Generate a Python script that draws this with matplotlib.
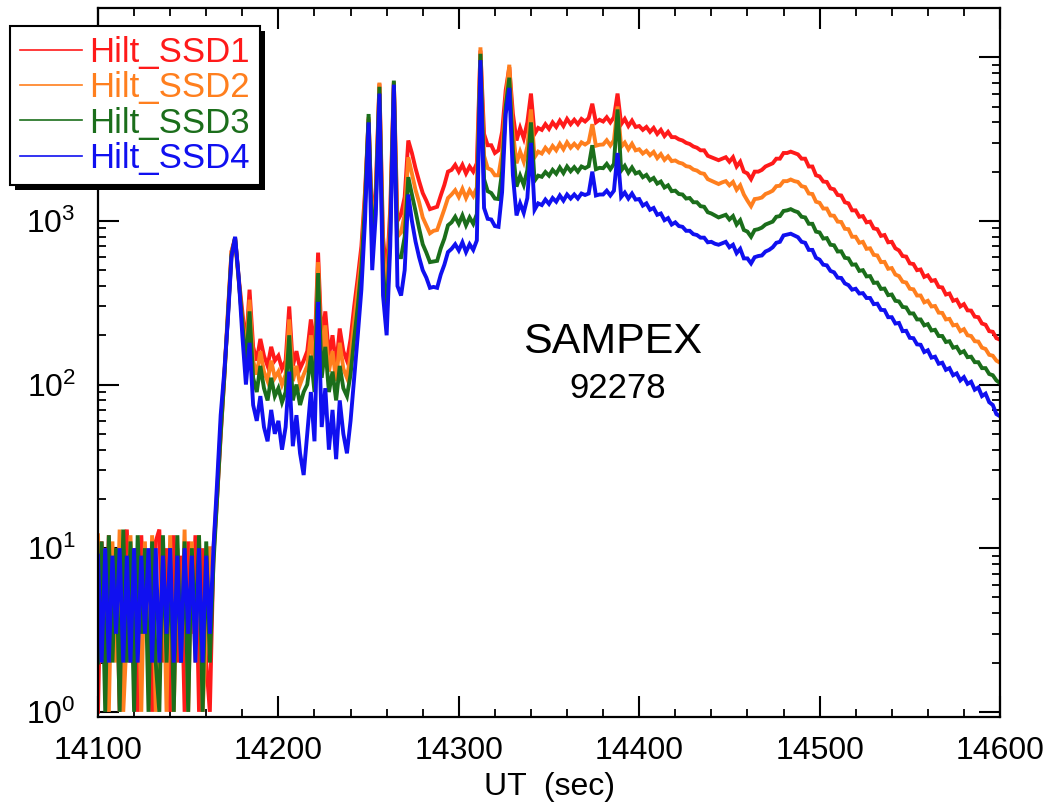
import numpy as np
import matplotlib
matplotlib.use('Agg')
import matplotlib.pyplot as plt
from matplotlib.patches import Rectangle
from matplotlib.transforms import IdentityTransform
from matplotlib.ticker import FixedLocator, LogLocator, MultipleLocator, NullFormatter, FixedFormatter

plt.rcParams['font.family'] = ['Liberation Sans', 'DejaVu Sans']
plt.rcParams['mathtext.fontset'] = 'custom'
plt.rcParams['mathtext.rm'] = 'Liberation Sans'
plt.rcParams['mathtext.it'] = 'Liberation Sans:italic'
plt.rcParams['mathtext.default'] = 'regular'

# ---------------- data (counts, 2-s samples from 14100 to 14600 s) ----------------
t_start = 14100
t_step = 2
series_names = ['Hilt_SSD1', 'Hilt_SSD2', 'Hilt_SSD3', 'Hilt_SSD4']
series_colors = ['#ff1a1a', '#ff7f1e', '#1b6e1b', '#1010f0']

ssd1 = [
    1, 11, 2, 12, 3, 10, 1, 9, 13, 2,
    10, 1, 12, 3, 9, 1, 11, 13, 2, 10,
    1, 12, 2, 9, 1, 11, 3, 12, 1, 10,
    2, 1, 9, 20, 48, 110, 270, 650, 790, 450,
    280, 170, 380, 170, 140, 190, 150, 130, 170, 140,
    150, 125, 140, 300, 130, 160, 125, 140, 160, 250,
    150, 640, 180, 280, 150, 200, 130, 220, 160, 140,
    190, 300, 450, 700, 1500, 4200, 900, 1600, 6900, 800,
    450, 1200, 7000, 1000, 1100, 1400, 3100, 2600, 2100, 1750,
    1480, 1330, 1180, 1200, 1220, 1430, 1660, 2000, 2050, 2200,
    2000, 2200, 1950, 2150, 2000, 2250, 11000, 3400, 2900, 2900,
    2600, 2700, 3500, 6300, 8700, 4500, 3100, 3700, 3200, 4000,
    6000, 3400, 3700, 3600, 3900, 3650, 4000, 3750, 4100, 3800,
    4200, 3900, 4150, 3900, 4200, 4050, 4250, 5200, 4000, 4150,
    4050, 4300, 4000, 4300, 6000, 3900, 4200, 3800, 4100, 3750,
    3800, 3600, 3750, 3500, 3700, 3400, 3600, 3300, 3500, 3250,
    3250, 3150, 3100, 3000, 2950, 2850, 2800, 2700, 2700, 2500,
    2450, 2400, 2350, 2400, 2450, 2300, 2450, 2150, 2300, 2000,
    1950, 1800, 2000, 2000, 2050, 2150, 2200, 2250, 2400, 2400,
    2600, 2600, 2650, 2600, 2550, 2400, 2400, 2150, 2150, 1900,
    1870, 1740, 1730, 1580, 1560, 1440, 1430, 1300, 1280, 1160,
    1160, 1060, 1070, 980, 990, 900, 890, 810, 820, 740,
    745, 680, 660, 610, 605, 550, 545, 500, 505, 455,
    465, 430, 435, 395, 392, 355, 360, 325, 330, 300,
    310, 284, 283, 260, 258, 236, 232, 212, 210, 192,
    188,
]

ssd2 = [
    12, 2, 10, 1, 11, 2, 13, 1, 3, 12,
    2, 10, 1, 11, 2, 12, 1, 3, 11, 1,
    12, 1, 10, 2, 13, 1, 11, 2, 12, 1,
    3, 10, 10, 22, 55, 115, 280, 650, 760, 430,
    250, 150, 330, 140, 115, 160, 120, 105, 140, 110,
    120, 100, 115, 250, 105, 130, 100, 115, 130, 200,
    120, 560, 145, 230, 120, 160, 105, 180, 125, 110,
    150, 240, 380, 600, 1350, 4300, 800, 1450, 7000, 650,
    350, 1000, 7100, 800, 850, 1100, 2450, 1950, 1550, 1300,
    1050, 940, 840, 870, 880, 1020, 1180, 1380, 1450, 1540,
    1400, 1570, 1380, 1540, 1420, 1600, 11500, 2500, 2100, 2050,
    1900, 1900, 2600, 5500, 9000, 3500, 2250, 2650, 2300, 2850,
    4800, 2450, 2650, 2580, 2800, 2640, 2870, 2700, 2960, 2740,
    3020, 2800, 2960, 2800, 3020, 2930, 3030, 3900, 2880, 2920,
    2930, 3110, 2890, 3110, 5000, 2840, 3010, 2740, 2960, 2700,
    2740, 2580, 2680, 2520, 2640, 2420, 2560, 2360, 2480, 2320,
    2340, 2270, 2240, 2160, 2140, 2060, 2030, 1960, 1940, 1800,
    1760, 1720, 1680, 1720, 1750, 1650, 1730, 1550, 1650, 1450,
    1330, 1230, 1360, 1370, 1390, 1460, 1490, 1530, 1630, 1640,
    1750, 1750, 1790, 1750, 1730, 1630, 1610, 1470, 1460, 1310,
    1290, 1190, 1190, 1080, 1075, 990, 985, 895, 890, 800,
    800, 735, 745, 675, 680, 620, 615, 560, 562, 510,
    515, 470, 460, 425, 420, 385, 382, 350, 350, 318,
    325, 300, 302, 275, 274, 250, 252, 230, 232, 212,
    218, 200, 198, 184, 183, 168, 165, 152, 150, 140,
    136,
]

ssd3 = [
    2, 11, 1, 12, 2, 10, 1, 13, 2, 11,
    1, 12, 3, 10, 1, 11, 2, 1, 12, 2,
    10, 1, 12, 2, 11, 1, 10, 3, 12, 1,
    11, 2, 8, 20, 50, 110, 260, 620, 790, 440,
    240, 130, 280, 110, 90, 130, 95, 80, 110, 85,
    95, 78, 90, 200, 80, 100, 75, 90, 100, 150,
    90, 480, 110, 170, 90, 120, 80, 130, 95, 85,
    115, 190, 300, 520, 1250, 4500, 700, 1300, 6600, 500,
    260, 850, 7200, 600, 600, 800, 1850, 1450, 1150, 900,
    720, 640, 560, 565, 570, 680, 780, 940, 980, 1060,
    960, 1080, 940, 1050, 960, 1100, 10500, 1800, 1520, 1480,
    1370, 1360, 2000, 5000, 7500, 2700, 1620, 1890, 1660, 2040,
    4000, 1760, 1890, 1860, 1990, 1890, 2050, 1940, 2120, 1960,
    2150, 2010, 2130, 2000, 2150, 2100, 2160, 2900, 2070, 2110,
    2100, 2230, 2070, 2230, 4800, 2030, 2170, 1970, 2120, 1950,
    1990, 1850, 1910, 1770, 1830, 1690, 1740, 1600, 1650, 1520,
    1530, 1460, 1450, 1370, 1380, 1300, 1300, 1230, 1220, 1130,
    1110, 1080, 1050, 1070, 1090, 1020, 1070, 950, 1010, 880,
    860, 800, 880, 890, 910, 950, 970, 990, 1060, 1070,
    1150, 1160, 1180, 1150, 1130, 1060, 1050, 960, 960, 860,
    850, 780, 785, 715, 710, 650, 652, 595, 590, 540,
    542, 495, 500, 458, 460, 418, 420, 384, 386, 352,
    355, 325, 322, 298, 296, 272, 272, 250, 250, 230,
    234, 214, 216, 198, 198, 182, 184, 168, 170, 156,
    160, 147, 148, 137, 137, 126, 126, 116, 114, 106,
    102,
]

ssd4 = [
    9, 2, 10, 2, 9, 3, 10, 2, 9, 2,
    10, 2, 9, 3, 10, 2, 10, 2, 9, 3,
    10, 2, 9, 2, 10, 3, 9, 2, 10, 2,
    9, 3, 10, 25, 65, 120, 250, 600, 800, 450,
    200, 100, 180, 75, 60, 85, 55, 45, 70, 50,
    60, 40, 55, 120, 42, 65, 38, 28, 50, 90,
    45, 320, 55, 95, 40, 70, 35, 80, 50, 38,
    60, 110, 200, 380, 1000, 4000, 500, 1100, 6000, 350,
    200, 700, 6800, 400, 350, 500, 1450, 1000, 750, 600,
    500, 450, 390, 395, 390, 470, 540, 645, 675, 720,
    660, 740, 645, 720, 665, 760, 9600, 1200, 1030, 1020,
    930, 920, 1500, 4500, 6500, 1900, 1080, 1280, 1120, 1380,
    3000, 1170, 1280, 1250, 1350, 1270, 1380, 1310, 1430, 1330,
    1450, 1370, 1450, 1370, 1470, 1440, 1470, 2000, 1430, 1450,
    1450, 1530, 1430, 1530, 2600, 1400, 1490, 1370, 1470, 1350,
    1360, 1240, 1280, 1170, 1200, 1090, 1110, 1010, 1040, 950,
    980, 930, 920, 870, 870, 830, 820, 790, 790, 740,
    745, 725, 715, 730, 745, 690, 715, 635, 675, 590,
    590, 550, 600, 610, 615, 650, 665, 690, 735, 745,
    815, 825, 835, 815, 795, 745, 735, 665, 665, 595,
    580, 540, 535, 495, 485, 450, 448, 415, 405, 380,
    385, 360, 362, 338, 338, 310, 312, 286, 285, 258,
    258, 236, 238, 212, 213, 193, 192, 176, 175, 158,
    162, 146, 148, 134, 136, 123, 126, 114, 117, 106,
    111, 101, 104, 93, 96, 85, 88, 78, 75, 66,
    64,
]

x_ticks = [14100, 14200, 14300, 14400, 14500, 14600]
y_ticks = [1, 10, 100, 1000, 10000]
y_tick_labels = ['$10^{0}$', '$10^{1}$', '$10^{2}$', '$10^{3}$', '']

all_series = [ssd1, ssd2, ssd3, ssd4]
assert all(len(s) == len(ssd1) for s in all_series)
t = t_start + t_step * np.arange(len(ssd1))

# ---------------- figure ----------------
W, H = 1049, 806
fig = plt.figure(figsize=(W / 100, H / 100), dpi=100)
ax = fig.add_axes([98 / W, 89 / H, 902 / W, 709 / H])

handles = []
for vals, col, name in zip(all_series, series_colors, series_names):
    h, = ax.plot(t, vals, color=col, lw=2.8, label=name, solid_joinstyle='miter')
    handles.append(h)

ax.set_yscale('log')
ax.set_xlim(14100, 14600)
ax.set_ylim(0.93, 2.0e4)

ax.xaxis.set_major_locator(FixedLocator(x_ticks))
ax.xaxis.set_minor_locator(MultipleLocator(20))
ax.yaxis.set_major_locator(FixedLocator(y_ticks))
ax.yaxis.set_major_formatter(FixedFormatter(y_tick_labels))
ax.yaxis.set_minor_locator(LogLocator(base=10, subs=np.arange(2, 10)))
ax.yaxis.set_minor_formatter(NullFormatter())

ax.tick_params(which='both', direction='in', top=True, right=True, colors='black')
ax.tick_params(which='major', length=15, width=1.5, labelsize=23)
ax.tick_params(axis='x', which='major', pad=14)
ax.tick_params(axis='y', which='major', pad=16)
ax.tick_params(which='minor', length=6, width=1.3)
for sp in ax.spines.values():
    sp.set_linewidth(1.6)

ax.set_xlabel('UT  (sec)', fontsize=23, labelpad=4)

ax.text(0.570, 0.529, 'SAMPEX', transform=ax.transAxes, fontsize=31,
        ha='center', va='center')
ax.text(0.5765, 0.464, '92278', transform=ax.transAxes, fontsize=25,
        ha='center', va='center')

leg = fig.legend(handles, series_names, loc='upper left',
                 bbox_to_anchor=(10 / W, 1 - 26 / H), bbox_transform=fig.transFigure,
                 frameon=True, fancybox=False, edgecolor='black', framealpha=1,
                 borderaxespad=0, fontsize=25, handlelength=1.8, handletextpad=0.2,
                 labelspacing=0.07, borderpad=0.28)
leg.get_frame().set_linewidth(1.5)
leg.set_zorder(5)
for txt, col in zip(leg.get_texts(), series_colors):
    txt.set_color(col)
for lh in leg.get_lines():
    lh.set_linewidth(1.2)

fig.canvas.draw()
bb = leg.get_window_extent()
shadow = Rectangle((bb.x0 + 5, bb.y0 - 5), bb.width, bb.height,
                   facecolor='black', edgecolor='none', zorder=4)
shadow.set_transform(IdentityTransform())
fig.add_artist(shadow)

fig.savefig('out.png', dpi=100)
